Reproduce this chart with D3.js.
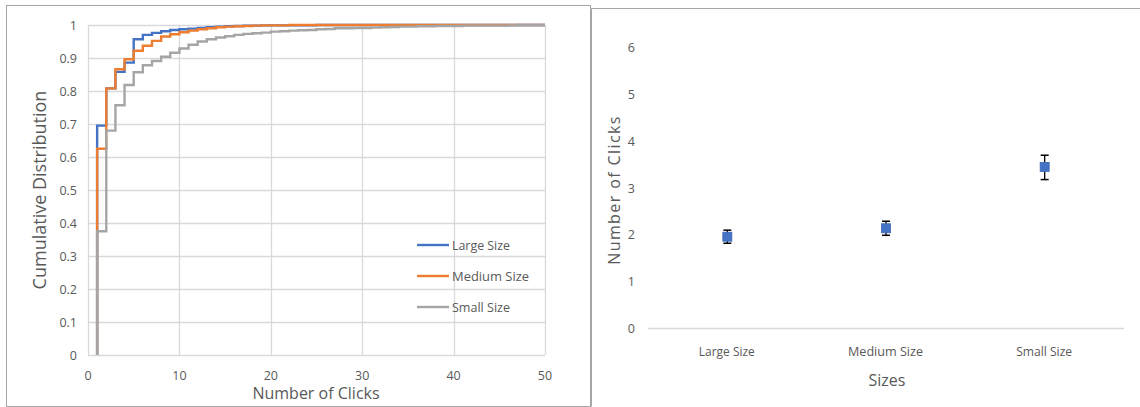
<!DOCTYPE html>
<html><head><meta charset="utf-8">
<script src="https://cdn.jsdelivr.net/npm/d3@7"></script>
<style>
body{margin:0;background:#fff;}
svg{display:block;}
text{font-family:"Open Sans","Noto Sans",sans-serif;fill:#595959;}
</style></head>
<body>
<svg id="c" width="1140" height="407"></svg>
<script>
// ---- Data ----
const clicks = d3.range(1, 51);
const seriesNames = ["Large Size", "Medium Size", "Small Size"];
const largeCdf = [0.695,0.808,0.858,0.886,0.957,0.970,0.976,0.981,0.985,0.987,0.989,0.991,0.993,0.995,0.996,0.997,0.998,0.998,0.999,0.999,0.999,0.999,0.999,0.999,1,1,1,1,1,1,1,1,1,1,1,1,1,1,1,1,1,1,1,1,1,1,1,1,1,1];
const mediumCdf = [0.625,0.808,0.866,0.896,0.922,0.937,0.952,0.965,0.972,0.978,0.983,0.987,0.990,0.993,0.995,0.996,0.997,0.998,0.999,0.999,0.999,1,1,1,1,1,1,1,1,1,1,1,1,1,1,1,1,1,1,1,1,1,1,1,1,1,1,1,1,1];
const smallCdf = [0.375,0.680,0.757,0.818,0.857,0.878,0.891,0.904,0.916,0.929,0.940,0.950,0.957,0.962,0.966,0.970,0.973,0.975,0.977,0.980,0.981,0.983,0.984,0.985,0.987,0.988,0.990,0.990,0.991,0.991,0.992,0.993,0.994,0.995,0.995,0.996,0.996,0.997,0.997,0.997,0.998,0.998,0.998,0.998,0.998,0.999,1,1,1,1];
const xTicks = [0,10,20,30,40,50];
const yTicks = [0,0.1,0.2,0.3,0.4,0.5,0.6,0.7,0.8,0.9,1];

const sizeCats = ["Large Size", "Medium Size", "Small Size"];
const meanClicks = [1.96, 2.14, 3.45];
const errLow = [1.82, 1.99, 3.18];
const errHigh = [2.10, 2.29, 3.70];
const rightYTicks = [0,1,2,3,4,5,6];

const colors = ["#4472C4", "#ED7D31", "#A5A5A5"];
const grid = "#d9d9d9";

// condensed text widths (Excel narrow labels)
const narrowLen = {"Large Size":58, "Medium Size":77, "Small Size":58};

const svg = d3.select("#c");

// Panel borders
svg.append("rect").attr("x",6.5).attr("y",5.5).attr("width",584).attr("height",401)
  .attr("fill","none").attr("stroke","#a6a6a6").attr("stroke-width",1);
svg.append("path").attr("d","M591.5,406.5V8.5H1140").attr("fill","none").attr("stroke","#a6a6a6").attr("stroke-width",1);

// ---- Left chart ----
const x = d3.scaleLinear().domain([0,50]).range([88,545]);
const y = d3.scaleLinear().domain([0,1]).range([355,25]);
const L = svg.append("g");

L.selectAll(".hg").data(yTicks).join("line")
  .attr("x1",x(0)).attr("x2",x(50)).attr("y1",d=>Math.round(y(d))+0.5).attr("y2",d=>Math.round(y(d))+0.5)
  .attr("stroke",grid).attr("stroke-width",1.3);
L.selectAll(".vg").data(xTicks).join("line")
  .attr("y1",y(0)).attr("y2",y(1)).attr("x1",d=>Math.round(x(d))+0.5).attr("x2",d=>Math.round(x(d))+0.5)
  .attr("stroke",grid).attr("stroke-width",1.3);

L.selectAll(".yl").data(yTicks).join("text")
  .attr("x",77).attr("y",d=>y(d)+4.5).attr("text-anchor","end").attr("font-size",12.5)
  .text(d=>d3.format("~g")(d));
L.selectAll(".xl").data(xTicks).join("text")
  .attr("x",d=>x(d)).attr("y",380).attr("text-anchor","middle").attr("font-size",12.5)
  .text(d=>d);

L.append("text").attr("transform","translate(46,190) rotate(-90)").attr("text-anchor","middle")
  .attr("font-size",18).text("Cumulative Distribution");
L.append("text").attr("x",316).attr("y",399).attr("text-anchor","middle")
  .attr("font-size",16).text("Number of Clicks");

const line = d3.line().x(d=>x(d[0])).y(d=>y(d[1])).curve(d3.curveStepAfter);
[largeCdf, mediumCdf, smallCdf].forEach((s,i)=>{
  const pts = [[1,0]].concat(clicks.map((c,j)=>[c,s[j]]));
  L.append("path").datum(pts).attr("d",line).attr("fill","none")
    .attr("stroke",colors[i]).attr("stroke-width",2.4).attr("stroke-linejoin","miter");
});

// Legend
const legY = [245,276,307];
seriesNames.forEach((n,i)=>{
  L.append("line").attr("x1",417).attr("x2",449).attr("y1",legY[i]).attr("y2",legY[i])
    .attr("stroke",colors[i]).attr("stroke-width",2.4);
  L.append("text").attr("x",452).attr("y",legY[i]+4.5)
    .attr("font-size",13).attr("textLength",narrowLen[n]).attr("lengthAdjust","spacingAndGlyphs").text(n);
});

// ---- Right chart ----
const xb = d3.scaleBand().domain(sizeCats).range([648,1124]);
const yr = d3.scaleLinear().domain([0,6]).range([328.5,47.5]);
const R = svg.append("g");

R.append("line").attr("x1",648).attr("x2",1124).attr("y1",yr(0)).attr("y2",yr(0))
  .attr("stroke",grid).attr("stroke-width",1.5);
R.selectAll(".ryl").data(rightYTicks).join("text")
  .attr("x",635).attr("y",d=>yr(d)+4.5).attr("text-anchor","end").attr("font-size",12.5).text(d=>d);
R.selectAll(".rxl").data(sizeCats).join("text")
  .attr("x",d=>xb(d)+xb.bandwidth()/2 - narrowLen[d]/2 + 0.5).attr("y",356)
  .attr("font-size",12.5).attr("textLength",d=>narrowLen[d]-2).attr("lengthAdjust","spacingAndGlyphs").text(d=>d);
R.append("text").attr("transform","translate(620,190) rotate(-90)").attr("text-anchor","middle")
  .attr("font-size",16).attr("letter-spacing",1.4).text("Number of Clicks");
R.append("text").attr("x",887).attr("y",386).attr("text-anchor","middle").attr("font-size",16).text("Sizes");

sizeCats.forEach((c,i)=>{
  const cx = xb(c)+xb.bandwidth()/2;
  R.append("line").attr("x1",cx).attr("x2",cx).attr("y1",yr(errLow[i])).attr("y2",yr(errHigh[i]))
    .attr("stroke","#000").attr("stroke-width",1.3);
  [errLow[i],errHigh[i]].forEach(v=>{
    R.append("line").attr("x1",cx-4).attr("x2",cx+4).attr("y1",yr(v)).attr("y2",yr(v))
      .attr("stroke","#000").attr("stroke-width",1.5);
  });
  R.append("rect").attr("x",cx-4.5).attr("y",yr(meanClicks[i])-4.5).attr("width",9).attr("height",9)
    .attr("fill","#4472C4").attr("stroke","#3a66b5").attr("stroke-width",0.8);
});
</script>
</body></html>
